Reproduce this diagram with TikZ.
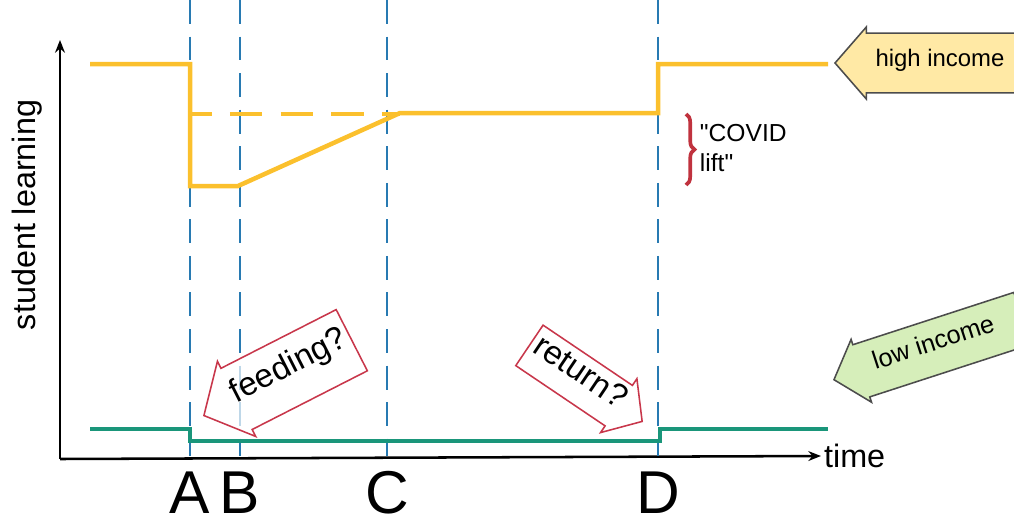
\documentclass[tikz,border=0pt]{standalone}
\usepackage{fontspec}
\setmainfont{Liberation Sans}
\usetikzlibrary{shapes.arrows,decorations.pathreplacing,arrows.meta}

\definecolor{highcol}{RGB}{251,192,45}
\definecolor{lowcol}{RGB}{26,150,122}
\definecolor{eventcol}{RGB}{40,122,178}
\definecolor{bracecol}{RGB}{192,50,62}
\definecolor{notecol}{RGB}{200,55,75}
\definecolor{highfill}{RGB}{255,233,165}
\definecolor{lowfill}{RGB}{214,238,186}

\begin{document}
\begin{tikzpicture}[x=0.025cm, y=-0.025cm, >=Stealth,
    axis/.style={line width=1.8pt, -{Stealth[length=9pt,width=7pt]}},
    eventline/.style={draw=eventcol, line width=1.4pt, dash pattern=on 17pt off 9pt},
    highline/.style={draw=highcol, line width=3.2pt},
    lowline/.style={draw=lowcol, line width=3pt},
    letter/.style={font=\fontsize{43}{43}\selectfont, anchor=base, inner sep=0pt},
    bigarrow/.style={single arrow, draw, line width=1.1pt, single arrow tip angle=98,
      single arrow head extend=2pt, inner xsep=0pt, text height=.7em, text depth=.2em, anchor=tip}]
  \useasboundingbox (0,0) rectangle (1014,514);

  % axes
  \coordinate (o) at (60,459);
  \coordinate (ytop) at (60,40);
  \node[anchor=west, inner sep=2pt, font=\fontsize{23}{23}\selectfont] (time) at (821,456) {time};
  \node[rotate=90, font=\fontsize{23}{23}\selectfont] (ylab) at (27,215) {student learning};
  \draw[axis] (o) -- (ytop);
  \draw[axis] (o) -- (time.west);

  % events
  \foreach \x/\l in {190/A,240/B,387/C,658/D} {
    \draw[eventline] (\x,0) -- (\x,456);
    \node[letter] (\l) at (\x,513) {\l};
  }

  % learning curves
  \draw[highline, line width=2.2pt, dash pattern=on 23pt off 13pt, dash phase=9pt] (192,114) -- (400,114);
  \draw[highline] (90,64) -| (190,186) -- (238,186) -- (400,113) -- (658,113) |- (828,64);
  \draw[lowline] (90,429) -| (190,441) -- (660,441) |- (828,429);

  % covid lift
  \draw[bracecol, line width=2.6pt, decorate, decoration={brace, amplitude=6pt}] (686,114) -- (686,185);
  \node[anchor=west, align=left, font=\fontsize{17.5}{21.3}\selectfont] (lift) at (695,148) {\textquotedbl COVID\\lift\textquotedbl};

  % notes
  \node[bigarrow, fill=highfill, draw=black!70, shape border rotate=180, font=\fontsize{17}{17}\selectfont,
    minimum height=140.8pt, minimum width=51.2pt, inner ysep=4.8pt] (high) at (834,63) {\hspace{-10pt}high income};
  \node[bigarrow, fill=lowfill, draw=black!70, shape border rotate=180, rotate=18, font=\fontsize{18}{18}\selectfont,
    minimum height=140.8pt, minimum width=47pt, inner ysep=4.7pt] (low) at (833,380) {\hspace{-7pt}low income};
  \node[bigarrow, fill=white, fill opacity=0.7, text opacity=1, draw=notecol, shape border rotate=180, rotate=27,
    font=\fontsize{23.5}{23.5}\selectfont, minimum height=118pt, minimum width=60pt, inner ysep=3.7pt] (feed) at (203,416) {feeding?};
  \node[bigarrow, fill=white, fill opacity=0.7, text opacity=1, draw=notecol, rotate=-34,
    font=\fontsize{23.5}{23.5}\selectfont, minimum height=96.7pt, minimum width=46.2pt, inner ysep=1pt] (ret) at (643,422) {return?};
\end{tikzpicture}
\end{document}
